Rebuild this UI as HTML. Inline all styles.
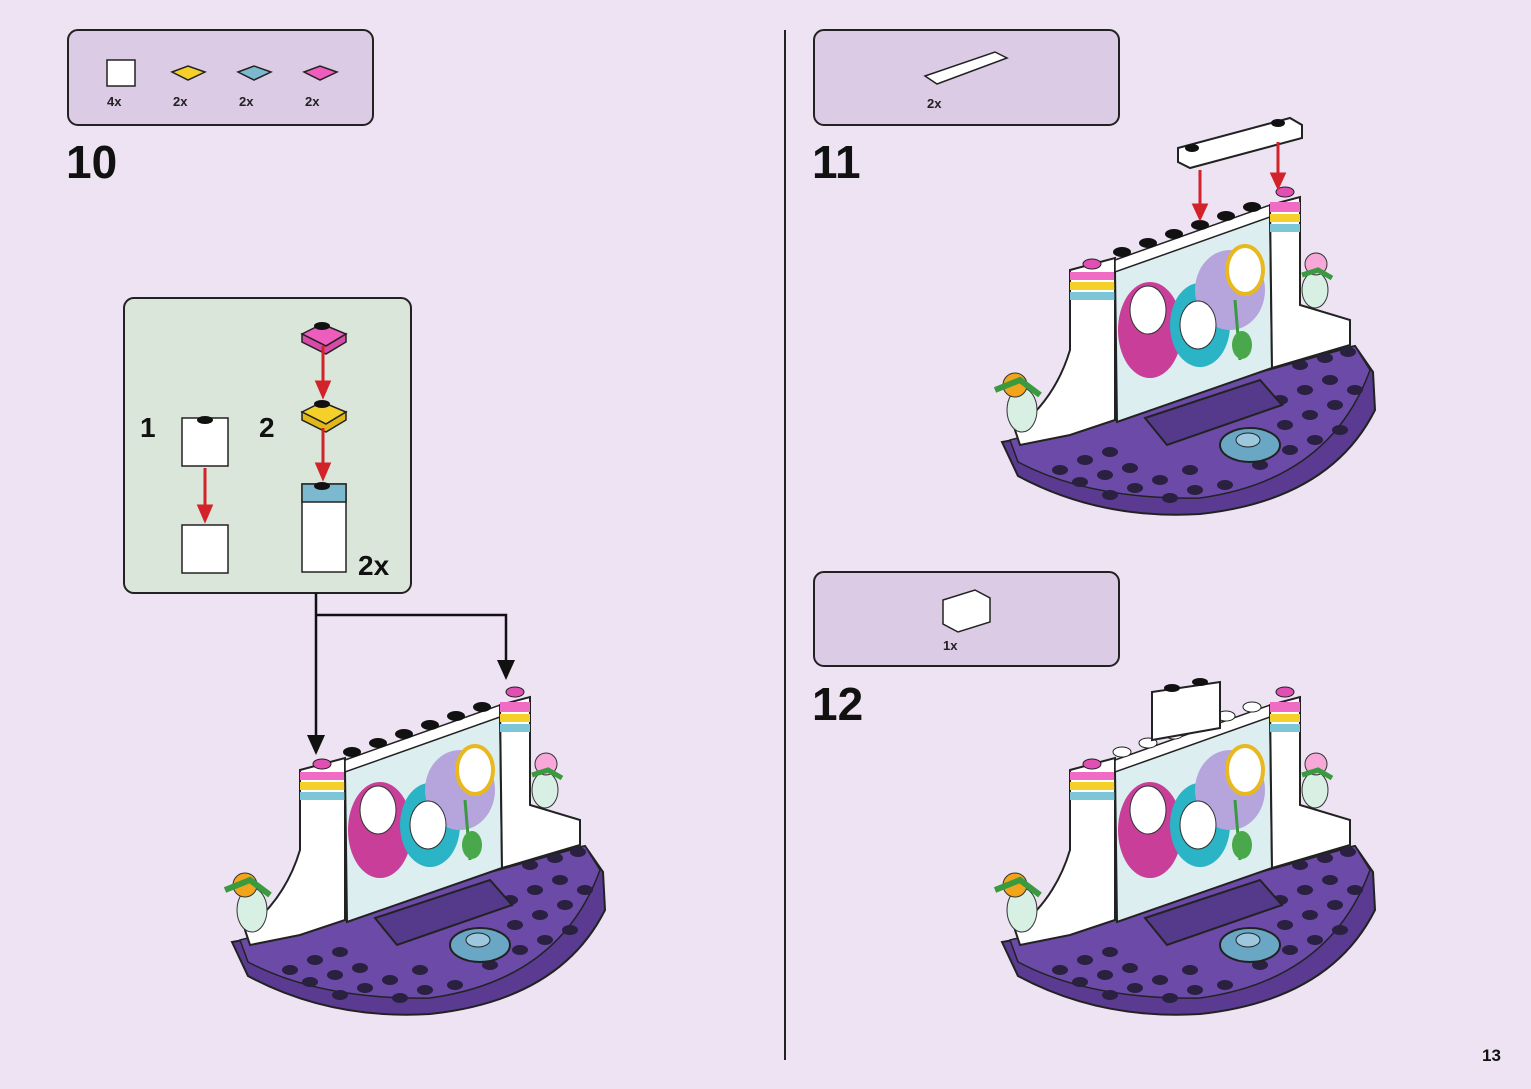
<!DOCTYPE html>
<html><head><meta charset="utf-8"><style>
html,body{margin:0;padding:0;background:#ede3f2;}
svg{display:block;font-family:"Liberation Sans",sans-serif;}
</style></head><body>
<svg width="1531" height="1089" viewBox="0 0 1531 1089" xmlns="http://www.w3.org/2000/svg">
<defs>
<g id="model">
  <path d="M232,942 L248,976 Q330,1020 430,1014 Q560,1000 605,910 L603,872 L585,846 L520,860 L300,930 Z" fill="#5a3b91" stroke="#222" stroke-width="2"/>
  <path d="M240,940 L300,925 L585,846 L600,870 Q560,980 430,998 Q320,1000 248,962 Z" fill="#6c4aa8" stroke="#222" stroke-width="1.5"/>
  <g fill="#2a2040">
    <ellipse cx="290" cy="970" rx="8" ry="5"/><ellipse cx="315" cy="960" rx="8" ry="5"/><ellipse cx="340" cy="952" rx="8" ry="5"/>
    <ellipse cx="310" cy="982" rx="8" ry="5"/><ellipse cx="335" cy="975" rx="8" ry="5"/><ellipse cx="360" cy="968" rx="8" ry="5"/>
    <ellipse cx="340" cy="995" rx="8" ry="5"/><ellipse cx="365" cy="988" rx="8" ry="5"/><ellipse cx="390" cy="980" rx="8" ry="5"/>
    <ellipse cx="400" cy="998" rx="8" ry="5"/><ellipse cx="425" cy="990" rx="8" ry="5"/><ellipse cx="420" cy="970" rx="8" ry="5"/>
    <ellipse cx="455" cy="985" rx="8" ry="5"/><ellipse cx="520" cy="950" rx="8" ry="5"/><ellipse cx="545" cy="940" rx="8" ry="5"/>
    <ellipse cx="515" cy="925" rx="8" ry="5"/><ellipse cx="540" cy="915" rx="8" ry="5"/><ellipse cx="565" cy="905" rx="8" ry="5"/>
    <ellipse cx="510" cy="900" rx="8" ry="5"/><ellipse cx="535" cy="890" rx="8" ry="5"/><ellipse cx="560" cy="880" rx="8" ry="5"/>
    <ellipse cx="585" cy="890" rx="8" ry="5"/><ellipse cx="570" cy="930" rx="8" ry="5"/><ellipse cx="490" cy="965" rx="8" ry="5"/>
    <ellipse cx="530" cy="865" rx="8" ry="5"/><ellipse cx="555" cy="858" rx="8" ry="5"/><ellipse cx="578" cy="852" rx="8" ry="5"/>
  </g>
  <path d="M300,770 L345,758 L345,920 L300,935 L250,945 L245,930 Q285,900 300,850 Z" fill="#fff" stroke="#222" stroke-width="2"/>
  <rect x="300" y="772" width="45" height="8" fill="#f06cc4"/>
  <rect x="300" y="782" width="45" height="8" fill="#f6d02a"/>
  <rect x="300" y="792" width="45" height="8" fill="#7cc6d8"/>
  <path d="M345,770 L500,715 L502,868 L347,922 Z" fill="#ddeef0" stroke="#222" stroke-width="2"/>
  <path d="M345,760 L500,705 L500,717 L345,772 Z" fill="#fff" stroke="#222" stroke-width="1.5"/>
  <ellipse cx="380" cy="830" rx="32" ry="48" fill="#c93e99"/>
  <ellipse cx="430" cy="825" rx="30" ry="42" fill="#2bb3c6"/>
  <ellipse cx="460" cy="790" rx="35" ry="40" fill="#b6a4dc"/>
  <ellipse cx="378" cy="810" rx="18" ry="24" fill="#fff" stroke="#333"/>
  <ellipse cx="428" cy="825" rx="18" ry="24" fill="#fff" stroke="#333"/>
  <ellipse cx="475" cy="770" rx="18" ry="24" fill="#fff" stroke="#e8b820" stroke-width="4"/>
  <path d="M465,800 L470,860" stroke="#3a9a40" stroke-width="3"/>
  <ellipse cx="472" cy="845" rx="10" ry="14" fill="#4aa84c"/>
  <path d="M500,705 L530,697 L530,805 L580,820 L580,845 L502,868 Z" fill="#fff" stroke="#222" stroke-width="2"/>
  <rect x="500" y="702" width="30" height="10" fill="#f06cc4"/>
  <rect x="500" y="714" width="30" height="8" fill="#f6d02a"/>
  <rect x="500" y="724" width="30" height="8" fill="#7cc6d8"/>
  <ellipse cx="322" cy="764" rx="9" ry="5" fill="#e24fb3" stroke="#222"/>
  <ellipse cx="515" cy="692" rx="9" ry="5" fill="#e24fb3" stroke="#222"/>
  <path d="M375,918 L490,880 L512,905 L397,945 Z" fill="#55398a" stroke="#222" stroke-width="2"/>
  <ellipse cx="480" cy="945" rx="30" ry="17" fill="#6aa7c5" stroke="#222" stroke-width="2"/>
  <ellipse cx="478" cy="940" rx="12" ry="7" fill="#9cc7dc" stroke="#222"/>
  <ellipse cx="252" cy="910" rx="15" ry="22" fill="#d8efe4" stroke="#333"/>
  <circle cx="245" cy="885" r="12" fill="#f2a41c" stroke="#333"/>
  <path d="M225,890 L250,880 L270,895" stroke="#3a9a40" stroke-width="6" fill="none"/>
  <ellipse cx="545" cy="790" rx="13" ry="18" fill="#d8efe4" stroke="#333"/>
  <circle cx="546" cy="764" r="11" fill="#f7a8d8" stroke="#333"/>
  <path d="M532,775 L548,770 L562,778" stroke="#3a9a40" stroke-width="5" fill="none"/>
</g>
<g id="studs">
  <ellipse cx="352" cy="752" rx="9" ry="5"/><ellipse cx="378" cy="743" rx="9" ry="5"/><ellipse cx="404" cy="734" rx="9" ry="5"/>
  <ellipse cx="430" cy="725" rx="9" ry="5"/><ellipse cx="456" cy="716" rx="9" ry="5"/><ellipse cx="482" cy="707" rx="9" ry="5"/>
</g>
</defs>

<rect x="68" y="30" width="305" height="95" rx="10" fill="#dccbe5" stroke="#222" stroke-width="2"/>
<g stroke="#222" stroke-width="1.5">
 <rect x="107" y="60" width="28" height="26" fill="#fff"/>
 <path d="M172,72 L188,66 L205,72 L188,80 Z" fill="#f6d02a"/>
 <path d="M238,72 L254,66 L271,72 L254,80 Z" fill="#7cb9cf"/>
 <path d="M304,72 L320,66 L337,72 L320,80 Z" fill="#ee5cbd"/>
</g>
<g font-size="13" font-weight="bold" fill="#222">
 <text x="107" y="106">4x</text><text x="173" y="106">2x</text><text x="239" y="106">2x</text><text x="305" y="106">2x</text>
</g>
<text x="66" y="178" font-size="46" font-weight="bold" fill="#111">10</text>

<rect x="124" y="298" width="287" height="295" rx="10" fill="#dbe6da" stroke="#222" stroke-width="2"/>
<text x="140" y="437" font-size="28" font-weight="bold" fill="#111">1</text>
<text x="259" y="437" font-size="28" font-weight="bold" fill="#111">2</text>
<text x="358" y="575" font-size="28" font-weight="bold" fill="#111">2x</text>
<g stroke="#222" stroke-width="1.5">
 <rect x="182" y="418" width="46" height="48" fill="#fff"/>
 <rect x="182" y="525" width="46" height="48" fill="#fff"/>
 <path d="M302,334 L322,324 L346,334 L326,346 Z" fill="#ee5cbd"/>
 <path d="M302,334 L326,346 L346,334 L346,342 L326,354 L302,342 Z" fill="#d84aa8"/>
 <path d="M302,412 L322,402 L346,412 L326,424 Z" fill="#f6d02a"/>
 <path d="M302,412 L326,424 L346,412 L346,420 L326,432 L302,420 Z" fill="#e0b818"/>
 <rect x="302" y="484" width="44" height="88" fill="#fff"/>
 <rect x="302" y="484" width="44" height="18" fill="#7cb9cf"/>
</g>
<g fill="#111"><ellipse cx="205" cy="420" rx="8" ry="4"/><ellipse cx="322" cy="326" rx="8" ry="4"/><ellipse cx="322" cy="404" rx="8" ry="4"/><ellipse cx="322" cy="486" rx="8" ry="4"/></g>
<g stroke="#d2232a" stroke-width="3" fill="#d2232a">
 <line x1="205" y1="468" x2="205" y2="508"/><path d="M199,506 L211,506 L205,520 Z"/>
 <line x1="323" y1="346" x2="323" y2="385"/><path d="M317,382 L329,382 L323,396 Z"/>
 <line x1="323" y1="428" x2="323" y2="466"/><path d="M317,464 L329,464 L323,478 Z"/>
</g>
<g stroke="#111" stroke-width="2.5" fill="none">
 <path d="M316,593 L316,740"/>
 <path d="M316,615 L506,615 L506,665"/>
</g>
<path d="M307,735 L325,735 L316,755 Z" fill="#111"/>
<path d="M497,660 L515,660 L506,680 Z" fill="#111"/>

<use href="#model"/>
<use href="#studs" fill="#111"/>

<line x1="785" y1="30" x2="785" y2="1060" stroke="#222" stroke-width="2"/>

<rect x="814" y="30" width="305" height="95" rx="10" fill="#dccbe5" stroke="#222" stroke-width="2"/>
<path d="M925,76 L995,52 L1007,58 L937,84 Z" fill="#fff" stroke="#222" stroke-width="1.5"/>
<text x="927" y="108" font-size="13" font-weight="bold" fill="#222">2x</text>
<text x="812" y="178" font-size="46" font-weight="bold" fill="#111">11</text>
<use href="#model" transform="translate(770,-500)"/>
<use href="#studs" fill="#111" transform="translate(770,-500)"/>
<path d="M1178,148 L1290,118 L1302,125 L1302,138 L1190,168 L1178,162 Z" fill="#fff" stroke="#222" stroke-width="2"/>
<ellipse cx="1192" cy="148" rx="7" ry="4" fill="#111"/><ellipse cx="1278" cy="123" rx="7" ry="4" fill="#111"/>
<g stroke="#d2232a" stroke-width="3" fill="#d2232a">
 <line x1="1200" y1="170" x2="1200" y2="208"/><path d="M1194,205 L1206,205 L1200,218 Z"/>
 <line x1="1278" y1="142" x2="1278" y2="176"/><path d="M1272,174 L1284,174 L1278,187 Z"/>
</g>

<rect x="814" y="572" width="305" height="94" rx="10" fill="#dccbe5" stroke="#222" stroke-width="2"/>
<path d="M943,600 L975,590 L990,598 L990,622 L958,632 L943,624 Z" fill="#fff" stroke="#222" stroke-width="1.5"/>
<text x="943" y="650" font-size="13" font-weight="bold" fill="#222">1x</text>
<text x="812" y="720" font-size="46" font-weight="bold" fill="#111">12</text>
<use href="#model" transform="translate(770,0)"/>
<use href="#studs" fill="#fff" stroke="#222" transform="translate(770,0)"/>
<path d="M1152,692 L1220,682 L1220,728 L1152,740 Z" fill="#fff" stroke="#222" stroke-width="2"/>
<ellipse cx="1172" cy="688" rx="8" ry="4" fill="#111"/><ellipse cx="1200" cy="682" rx="8" ry="4" fill="#111"/>

<text x="1482" y="1061" font-size="17" font-weight="bold" fill="#111">13</text>
</svg>
</body></html>
